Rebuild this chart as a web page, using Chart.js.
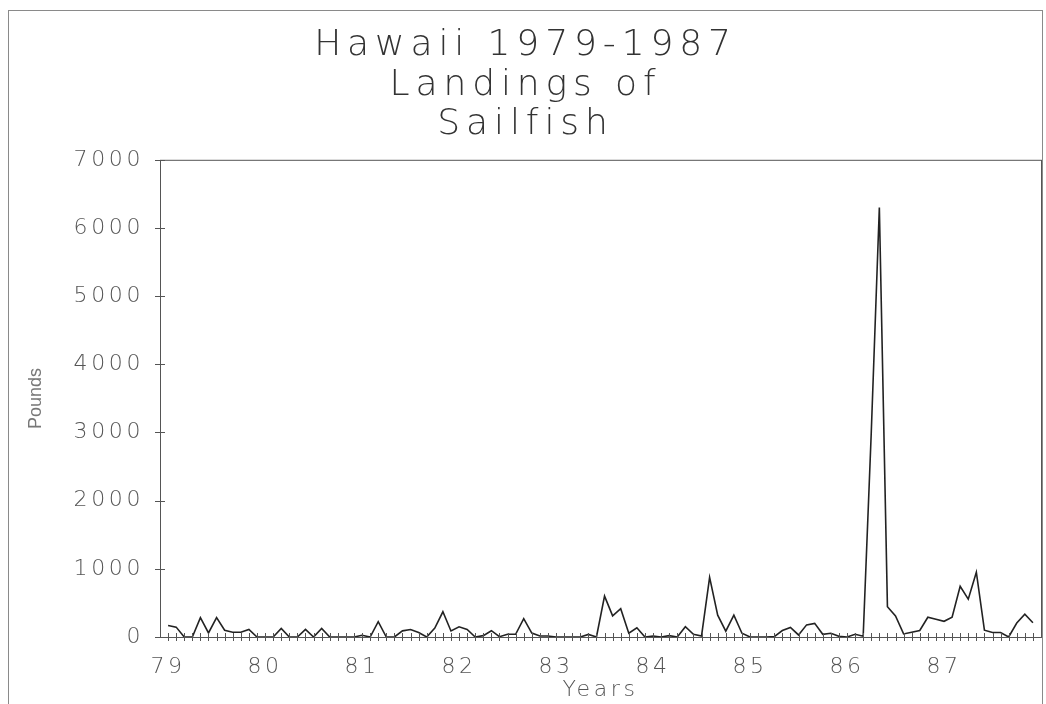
<!DOCTYPE html>
<html>
<head>
<meta charset="utf-8">
<title>Hawaii 1979-1987 Landings of Sailfish</title>
<script src="https://cdn.jsdelivr.net/npm/chart.js@4.4.1/dist/chart.umd.min.js"></script>
<style>
    html, body { margin: 0; padding: 0; background: #fff; overflow: hidden; }
    #marco { position: absolute; left: 8px; top: 10px; width: 1033px; height: 700px; border: 1px solid #8a8a8a; border-bottom: none; }
    #grafico { position: absolute; left: 0; top: 0; }
</style>
</head>
<body>
<div id="marco"></div>
<canvas id="grafico" width="1046" height="704"></canvas>
<script>
// Libras desembarcadas por mes (ene..dic)
const anios = ['79', '80', '81', '82', '83', '84', '85', '86', '87'];
const libras79 = [170, 145, 0, 0, 285, 60, 285, 100, 70, 70, 110, 0];
const libras80 = [0, 0, 125, 0, 0, 112, 0, 125, 0, 0, 0, 0];
const libras81 = [25, 0, 225, 0, 0, 90, 110, 65, 0, 130, 370, 88];
const libras82 = [150, 112, 0, 20, 92, 5, 40, 40, 270, 58, 15, 15];
const libras83 = [0, 0, 0, 0, 38, 0, 600, 310, 415, 55, 135, 0];
const libras84 = [15, 0, 20, 0, 150, 40, 15, 875, 320, 85, 320, 55];
const libras85 = [0, 0, 0, 5, 95, 140, 30, 178, 200, 40, 55, 10];
const libras86 = [0, 40, 12, 3000, 6300, 445, 310, 45, 70, 95, 290, 260];
const libras87 = [230, 290, 745, 555, 950, 100, 65, 65, 0, 205, 335, 210];
const ticksLibras = [0, 1000, 2000, 3000, 4000, 5000, 6000, 7000];

const libras = [libras79, libras80, libras81, libras82, libras83, libras84, libras85, libras86, libras87].flat();
const puntos = libras.map((v, i) => ({ x: i, y: v }));

// Letra ancha tipo plotter: espaciado proporcional al tamaño para DejaVu
function espaciarTexto(ctx) {
    const fill = ctx.fillText.bind(ctx);
    const measure = ctx.measureText.bind(ctx);
    function aplicar() {
        const m = /(\d+(?:\.\d+)?)px/.exec(ctx.font);
        if (!m || !ctx.font.includes('DejaVu')) { ctx.letterSpacing = '0px'; return; }
        ctx.letterSpacing = (parseFloat(m[1]) * 0.165).toFixed(1) + 'px';
    }
    ctx.fillText = function (t, x, y, w) { aplicar(); return w === undefined ? fill(t, x, y) : fill(t, x, y, w); };
    ctx.measureText = function (t) { aplicar(); return measure(t); };
}

// Marco del área y marcas en cruz sobre los ejes
const marcasCruz = {
    id: 'marcasCruz',
    afterDraw(chart) {
        const { ctx, chartArea, scales } = chart;
        ctx.save();
        ctx.strokeStyle = '#555';
        ctx.lineWidth = 1;
        ctx.strokeRect(chartArea.left + 0.5, chartArea.top + 0.5, chartArea.right - chartArea.left, chartArea.bottom - chartArea.top);
        ctx.beginPath();
        scales.x.ticks.forEach(t => {
            if (t.value < 0 || t.value >= libras.length) return;
            const x = Math.round(scales.x.getPixelForValue(t.value)) + 0.5;
            ctx.moveTo(x, chartArea.bottom - 4);
            ctx.lineTo(x, chartArea.bottom + 4);
        });
        scales.y.ticks.forEach(t => {
            const y = Math.round(scales.y.getPixelForValue(t.value)) + 0.5;
            ctx.moveTo(chartArea.left - 5, y);
            ctx.lineTo(chartArea.left + 5, y);
        });
        ctx.stroke();
        ctx.restore();
    }
};

const fuenteAncha = { family: "'DejaVu Sans'", size: 22, weight: 200, lineHeight: 1 };

const ctx = document.getElementById('grafico').getContext('2d');
espaciarTexto(ctx);

new Chart(ctx, {
    type: 'line',
    data: {
        datasets: [{
            data: puntos,
            borderColor: '#222',
            borderWidth: 1.6,
            pointRadius: 0,
            tension: 0,
            fill: false
        }]
    },
    options: {
        responsive: false,
        animation: false,
        layout: { padding: { left: 10, right: 5, top: 0, bottom: 0 } },
        plugins: {
            legend: { display: false },
            tooltip: { enabled: false },
            title: {
                display: true,
                text: ['Hawaii 1979-1987', 'Landings of', 'Sailfish'],
                color: '#333',
                font: { family: "'DejaVu Sans'", size: 36, weight: 200, lineHeight: 1.1 },
                padding: { top: 26, bottom: 15 }
            }
        },
        scales: {
            x: {
                type: 'linear',
                min: -1,
                max: 108,
                grid: { display: false },
                border: { display: false },
                ticks: {
                    stepSize: 1,
                    autoSkip: false,
                    maxRotation: 0,
                    padding: 11,
                    color: '#555',
                    font: fuenteAncha,
                    callback: v => (v >= 0 && v % 12 === 0) ? anios[v / 12] : ''
                },
                title: {
                    display: true,
                    text: 'Years',
                    color: '#555',
                    font: fuenteAncha,
                    padding: { top: -10, bottom: 3 }
                },
                afterFit: s => { s.paddingLeft = 0; s.paddingRight = 0; }
            },
            y: {
                min: 0,
                max: 7000,
                grid: { display: false },
                border: { display: false },
                afterBuildTicks: s => { s.ticks = ticksLibras.map(v => ({ value: v })); },
                ticks: {
                    padding: 8,
                    color: '#555',
                    font: fuenteAncha,
                    callback: v => String(v)
                },
                title: {
                    display: true,
                    text: 'Pounds',
                    color: '#777',
                    font: { family: "'Liberation Sans'", size: 18, weight: 'normal' },
                    padding: { top: 15, bottom: 0 }
                },
                afterFit: s => { s.width = 150; }
            }
        }
    },
    plugins: [marcasCruz]
});
</script>
</body>
</html>
